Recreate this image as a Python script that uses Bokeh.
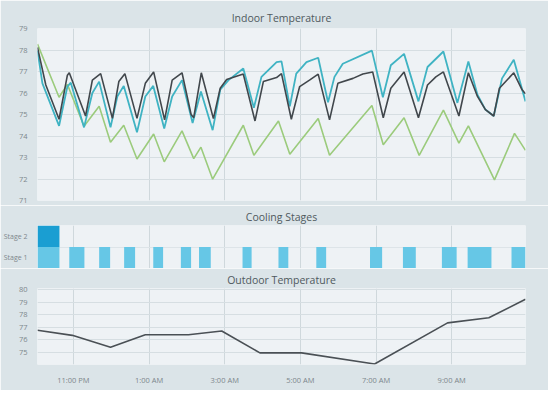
from bokeh.plotting import figure
from bokeh.layouts import column
from bokeh.models import FixedTicker, Range1d
from bokeh.embed import file_html
from bokeh.resources import INLINE

# x values are hours after 10:00 PM
tick_hours = [1, 3, 5, 7, 9, 11]
tick_labels = ["11:00 PM", "1:00 AM", "3:00 AM", "5:00 AM", "7:00 AM", "9:00 AM"]

# Indoor temperature series
green_x = [0.05, 0.62, 0.84, 1.28, 1.68, 1.98, 2.33, 2.68, 3.12, 3.40, 3.87, 4.18, 4.37, 4.68,
           5.49, 5.77, 6.42, 6.72, 7.47, 7.77, 8.89, 9.19, 9.74, 10.14, 10.78, 11.19, 11.44,
           12.13, 12.66, 12.95]
green_y = [78.28, 75.8, 76.4, 74.45, 75.38, 73.71, 74.5, 72.93, 74.09, 72.8, 74.24, 72.95, 73.48,
           71.99, 74.5, 73.1, 74.7, 73.15, 74.81, 73.1, 75.42, 73.59, 74.85, 73.1, 75.2, 73.67,
           74.47, 71.96, 74.12, 73.33]

teal_x = [0.05, 0.18, 0.62, 0.84, 0.93, 1.28, 1.5, 1.68, 1.98, 2.16, 2.33, 2.68, 2.9, 3.11, 3.4,
          3.61, 3.87, 4.15, 4.37, 4.68, 4.88, 5.1, 5.49, 5.77, 5.97, 6.37, 6.5, 6.72, 6.89, 7.16,
          7.47, 7.73, 7.9, 8.12, 8.89, 9.18, 9.39, 9.74, 10.12, 10.36, 10.78, 11.15, 11.44, 11.68,
          11.89, 12.11, 12.33, 12.64, 12.95]
teal_y = [77.97, 76.45, 74.47, 76.3, 76.48, 74.4, 76.0, 76.53, 74.4, 75.84, 76.33, 74.17, 75.84,
          76.33, 74.35, 75.84, 76.6, 74.6, 76.07, 74.27, 76.15, 76.6, 77.14, 75.31, 76.75, 77.44,
          77.47, 75.38, 76.9, 77.44, 77.64, 75.57, 76.75, 77.36, 77.97, 75.8, 77.29, 77.82, 75.61,
          77.21, 77.93, 75.54, 77.47, 75.92, 75.23, 74.93, 76.68, 77.55, 75.61]

dark_x = [0.05, 0.27, 0.62, 0.84, 0.89, 1.32, 1.5, 1.72, 2.03, 2.2, 2.36, 2.68, 2.9, 3.12, 3.41,
          3.61, 3.87, 4.11, 4.18, 4.38, 4.7, 4.88, 5.05, 5.49, 5.8, 6.02, 6.37, 6.5, 6.76, 6.98,
          7.24, 7.47, 7.77, 7.99, 8.39, 8.65, 8.91, 9.19, 9.39, 9.74, 10.12, 10.36, 10.58, 10.78,
          11.19, 11.44, 11.68, 11.89, 12.11, 12.26, 12.64, 12.86, 12.95]
dark_y = [78.12, 76.37, 74.78, 76.83, 76.94, 74.93, 76.6, 76.9, 74.82, 76.53, 76.9, 74.82, 76.45,
          76.98, 74.75, 76.6, 76.94, 75.0, 74.85, 76.94, 74.81, 76.22, 76.63, 76.88, 74.7, 76.53,
          76.72, 76.9, 74.78, 76.3, 76.6, 76.88, 74.75, 76.45, 76.68, 76.88, 76.98, 74.85, 76.22,
          76.98, 74.85, 76.37, 76.75, 76.98, 74.93, 76.94, 75.84, 75.23, 74.93, 76.22, 76.94,
          76.15, 75.96]

# Cooling stages (start/end hours)
stage1_start = [0.05, 0.89, 1.68, 2.34, 3.11, 3.84, 4.32, 5.47, 6.42, 7.42, 8.84, 9.71, 10.74, 11.42, 12.58]
stage1_end = [0.63, 1.29, 1.97, 2.63, 3.37, 4.11, 4.63, 5.71, 6.68, 7.68, 9.16, 10.05, 11.13, 12.05, 12.95]
stage2_start = [0.05]
stage2_end = [0.63]
stage_labels = ["Stage 1", "Stage 2"]

# Outdoor temperature
out_x = [0.05, 0.97, 1.98, 2.9, 4.04, 4.92, 5.93, 7.03, 8.96, 10.89, 11.98, 12.95]
out_y = [76.75, 76.34, 75.39, 76.39, 76.39, 76.69, 74.93, 74.93, 74.04, 77.34, 77.75, 79.24]

PANEL = "#dbe4e8"
PLOT_BG = "#eef2f5"
GRID = "#d6dee2"
TXT = "#7d878c"
TITLE_C = "#4f595e"
FONT = "Open Sans"
W = 548


def base(title, height, top, bottom, yr, standoff=4):
    p = figure(width=W, height=height, output_backend="svg", toolbar_location=None,
               x_range=Range1d(0.05, 12.95), y_range=yr,
               min_border_left=35, min_border_right=23, min_border_top=top,
               min_border_bottom=bottom)
    p.title.text = title
    p.title.align = "center"
    p.title.text_font = FONT
    p.title.text_font_size = "10.5px"
    p.title.text_font_style = "normal"
    p.title.text_color = TITLE_C
    p.title.text_line_height = 1.0
    p.title.standoff = standoff
    p.border_fill_color = PANEL
    p.background_fill_color = PLOT_BG
    p.outline_line_color = None
    p.xaxis.ticker = FixedTicker(ticks=tick_hours)
    p.xgrid.ticker = FixedTicker(ticks=tick_hours)
    p.xaxis.major_label_overrides = {h: l for h, l in zip(tick_hours, tick_labels)}
    p.xgrid.grid_line_color = "#cfd8dc"
    p.ygrid.grid_line_color = GRID
    for ax in (p.xaxis, p.yaxis):
        ax.axis_line_color = None
        ax.major_tick_line_color = None
        ax.minor_tick_line_color = None
        ax.major_label_text_font = FONT
        ax.major_label_text_font_size = "7.5px"
        ax.major_label_text_color = TXT
        ax.major_label_standoff = 4
    return p


p1 = base("Indoor Temperature", 205, 28, 5, Range1d(71, 79), standoff=7)
p1.yaxis.ticker = FixedTicker(ticks=list(range(71, 80)))
p1.ygrid.ticker = FixedTicker(ticks=list(range(71, 80)))
p1.xaxis.visible = False
p1.line(green_x, green_y, line_color="#9bcb7c", line_width=1.6)
p1.line(teal_x, teal_y, line_color="#3fb3c3", line_width=1.8)
p1.line(dark_x, dark_y, line_color="#41474c", line_width=1.6)

p2 = base("Cooling Stages", 63, 20, 0, Range1d(0, 2))
p2.yaxis.ticker = FixedTicker(ticks=[0.5, 1.5])
p2.yaxis.major_label_overrides = {0.5: stage_labels[0], 1.5: stage_labels[1]}
p2.yaxis.major_label_text_font_size = "7px"
p2.ygrid.ticker = FixedTicker(ticks=[1])
p2.ygrid.grid_line_color = "#dde4e8"
p2.xaxis.visible = False
p2.quad(left=stage1_start, right=stage1_end, bottom=[0] * len(stage1_start),
        top=[1] * len(stage1_start), fill_color="#66c7e6", line_color=None)
p2.quad(left=stage2_start, right=stage2_end, bottom=[1], top=[2],
        fill_color="#1a9ed2", line_color=None)

p3 = base("Outdoor Temperature", 122, 20, 26, Range1d(74, 80.1))
p3.yaxis.ticker = FixedTicker(ticks=[75, 76, 77, 78, 79, 80])
p3.ygrid.ticker = FixedTicker(ticks=[75, 76, 77, 78, 79, 80])
p3.line(out_x, out_y, line_color="#4a5055", line_width=1.6)

layout = column(p1, p2, p3, spacing=0)
open("out.html", "w").write(file_html(layout, INLINE))
